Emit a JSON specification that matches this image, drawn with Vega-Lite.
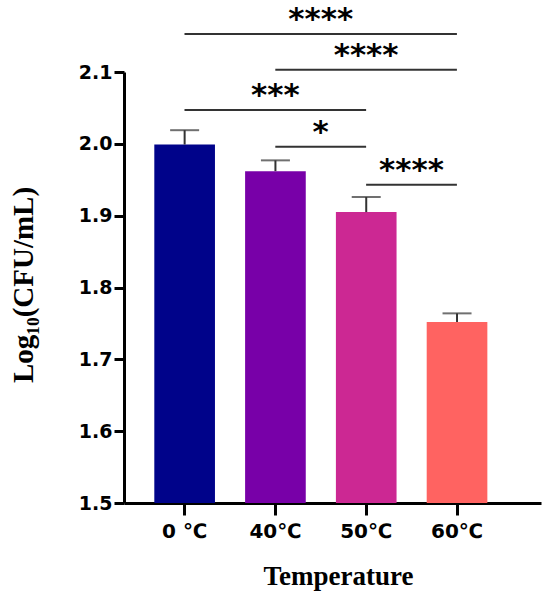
{
  "$schema": "https://vega.github.io/schema/vega-lite/v6.json",
  "width": 417,
  "height": 431,
  "autosize": {"type": "none"},
  "padding": {"left": 124, "top": 72, "right": 9, "bottom": 95},
  "background": "white",
  "config": {
    "view": {"stroke": null},
    "axis": {
      "grid": false,
      "domainColor": "black",
      "domainWidth": 3,
      "tickColor": "black",
      "tickWidth": 3,
      "labelColor": "black",
      "titleColor": "black",
      "labelFont": "DejaVu Sans",
      "labelFontWeight": "bold",
      "titleFont": "Liberation Serif",
      "titleFontWeight": "bold"
    }
  },
  "datasets": {
    "bars": [
      {"temp": "0 ℃", "mean": 1.999, "err": 2.019},
      {"temp": "40℃", "mean": 1.962, "err": 1.977},
      {"temp": "50℃", "mean": 1.905, "err": 1.926},
      {"temp": "60℃", "mean": 1.752, "err": 1.764}
    ],
    "sig": [
      {"from": 0, "to": 3, "mid": 1.5, "level": 2.153, "label": "****"},
      {"from": 1, "to": 3, "mid": 2.0, "level": 2.103, "label": "****"},
      {"from": 0, "to": 2, "mid": 1.0, "level": 2.047, "label": "***"},
      {"from": 1, "to": 2, "mid": 1.5, "level": 1.996, "label": "*"},
      {"from": 2, "to": 3, "mid": 2.5, "level": 1.943, "label": "****"}
    ]
  },
  "layer": [
    {
      "data": {"name": "bars"},
      "encoding": {
        "x": {
          "field": "temp", "type": "nominal", "sort": null,
          "scale": {"paddingInner": 0.332, "paddingOuter": 0.4623, "align": 0.361},
          "axis": {
            "title": "Temperature",
            "labelAngle": 0,
            "labelFontSize": 20,
            "labelPadding": 6,
            "labelDx": 4,
            "tickSize": 12,
            "titleFontSize": 27,
            "titleX": 214,
            "titleY": 81,
            "titleBaseline": "alphabetic",
            "titleAnchor": "middle"
          }
        }
      },
      "layer": [
        {
          "mark": {"type": "bar"},
          "encoding": {
            "y": {
              "field": "mean", "type": "quantitative",
              "scale": {"domain": [1.5, 2.1], "nice": false, "zero": false},
              "axis": {
                "title": "Log₁₀(CFU/mL)",
                "values": [1.5, 1.6, 1.7, 1.8, 1.9, 2.0, 2.1],
                "format": ".1f",
                "labelFontSize": 19,
                "labelPadding": 2,
                "tickSize": 10,
                "titleFontSize": 29,
                "titleAngle": 270,
                "titleBaseline": "alphabetic",
                "titleX": -92,
                "titleY": 212.5,
                "titleAnchor": "middle"
              }
            },
            "y2": {"datum": 1.5},
            "color": {
              "field": "temp", "type": "nominal", "sort": null, "legend": null,
              "scale": {"range": ["#00038A", "#7800A8", "#CC2893", "#FF6361"]}
            }
          }
        },
        {
          "mark": {"type": "rule", "color": "#333333", "strokeWidth": 2},
          "encoding": {
            "y": {"field": "mean", "type": "quantitative"},
            "y2": {"field": "err"}
          }
        },
        {
          "mark": {"type": "tick", "color": "#333333", "thickness": 2, "size": 29},
          "encoding": {
            "y": {"field": "err", "type": "quantitative"}
          }
        }
      ]
    },
    {
      "data": {"name": "sig"},
      "encoding": {
        "x": {"field": "from", "type": "quantitative", "scale": {"domain": [-0.6663, 3.926], "nice": false, "zero": false}, "axis": null},
        "y": {"field": "level", "type": "quantitative"}
      },
      "layer": [
        {
          "mark": {"type": "rule", "color": "#333333", "strokeWidth": 2},
          "encoding": {
            "x2": {"field": "to"}
          }
        },
        {
          "mark": {"type": "text", "font": "DejaVu Sans", "fontWeight": "bold", "fontSize": 31, "baseline": "alphabetic", "align": "center", "dy": -5, "color": "black"},
          "encoding": {
            "x": {"field": "mid", "type": "quantitative", "axis": null},
            "text": {"field": "label"}
          }
        }
      ]
    }
  ],
  "resolve": {"scale": {"x": "independent"}, "axis": {"x": "independent"}}
}
